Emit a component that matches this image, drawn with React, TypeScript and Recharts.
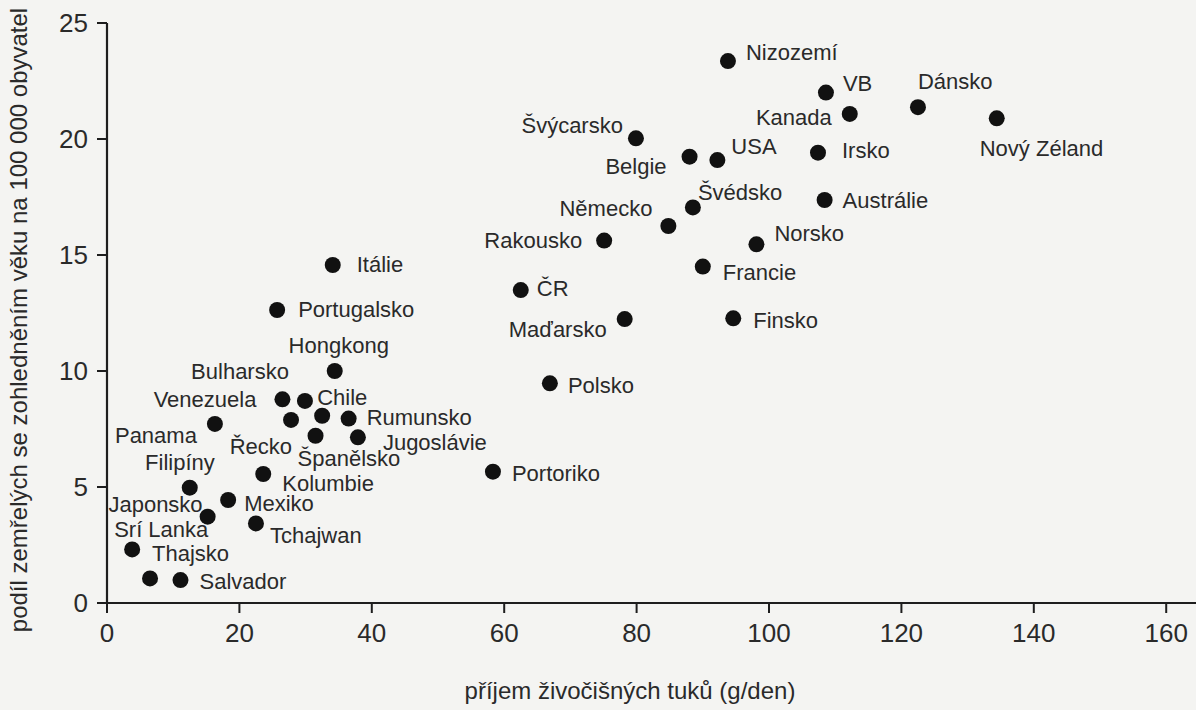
import React from "react";
import { ScatterChart, Scatter, XAxis, YAxis } from "recharts";

const countries = [
  "Nizozemí", "VB", "Kanada", "Dánsko", "Nový Zéland", "Irsko", "Austrálie",
  "Švýcarsko", "Belgie", "USA", "Švédsko", "Německo", "Rakousko", "Norsko",
  "Francie", "ČR", "Maďarsko", "Finsko", "Polsko", "Portoriko", "Itálie",
  "Portugalsko", "Hongkong", "Venezuela", "Bulharsko", "Řecko", "Chile",
  "Rumunsko", "Španělsko", "Jugoslávie", "Panama", "Kolumbie", "Filipíny",
  "Mexiko", "Japonsko", "Tchajwan", "Srí Lanka", "Thajsko", "Salvador",
];

const fatIntake = [
  93.8, 108.6, 112.2, 122.5, 134.4, 107.4, 108.4,
  79.9, 88.0, 92.2, 88.5, 84.8, 75.1, 98.1,
  90.0, 62.5, 78.2, 94.6, 66.9, 58.3, 34.1,
  25.7, 34.4, 26.5, 29.9, 27.8, 32.5,
  36.5, 31.5, 37.9, 16.3, 23.6, 12.5,
  18.3, 15.2, 22.5, 3.8, 6.5, 11.1,
];

const mortality = [
  23.36, 22.0, 21.08, 21.37, 20.89, 19.41, 17.37,
  20.03, 19.24, 19.09, 17.05, 16.25, 15.62, 15.46,
  14.5, 13.49, 12.24, 12.27, 9.47, 5.66, 14.57,
  12.63, 10.0, 8.78, 8.71, 7.89, 8.07,
  7.95, 7.21, 7.14, 7.72, 5.56, 4.97,
  4.44, 3.72, 3.43, 2.31, 1.06, 0.99,
];

const xTicks = [0, 20, 40, 60, 80, 100, 120, 140, 160];
const yTicks = [0, 5, 10, 15, 20, 25];

const xTitle = "příjem živočišných tuků (g/den)";
const yTitle = "podíl zemřelých se zohledněním věku na 100 000 obyvatel";

// label placement relative to each dot: [textAnchor, dx, dy]
const labelPlacement: Record<string, [string, number, number]> = {
  "Nizozemí": ["start", 18, -9],
  "VB": ["start", 17, -9],
  "Kanada": ["end", -18, 4],
  "Dánsko": ["start", 0, -26],
  "Nový Zéland": ["start", -17, 30],
  "Irsko": ["start", 24, -2],
  "Austrálie": ["start", 18, 0],
  "Švýcarsko": ["end", -13, -13],
  "Belgie": ["end", -23, 10],
  "USA": ["start", 14, -14],
  "Švédsko": ["start", 5, -15],
  "Německo": ["end", -16, -18],
  "Rakousko": ["end", -22, 0],
  "Norsko": ["start", 18, -11],
  "Francie": ["start", 20, 6],
  "ČR": ["start", 16, -2],
  "Maďarsko": ["end", -18, 10],
  "Finsko": ["start", 20, 2],
  "Polsko": ["start", 18, 2],
  "Portoriko": ["start", 19, 2],
  "Itálie": ["start", 24, 0],
  "Portugalsko": ["start", 21, 0],
  "Hongkong": ["middle", 4, -26],
  "Venezuela": ["end", -26, 0],
  "Bulharsko": ["end", -16, -29],
  "Řecko": ["end", 1, 27],
  "Chile": ["start", -5, -18],
  "Rumunsko": ["start", 18, -1],
  "Španělsko": ["start", -18, 23],
  "Jugoslávie": ["start", 25, 5],
  "Panama": ["end", -18, 12],
  "Kolumbie": ["start", 19, 9],
  "Filipíny": ["end", 25, -25],
  "Mexiko": ["start", 16, 4],
  "Japonsko": ["end", -5, -12],
  "Tchajwan": ["start", 14, 12],
  "Srí Lanka": ["start", -18, -20],
  "Thajsko": ["start", 2, -25],
  "Salvador": ["start", 19, 1],
};

const data = countries.map((name, i) => ({
  name,
  fat: fatIntake[i],
  rate: mortality[i],
}));

const FONT = "'Liberation Sans', Arial, Helvetica, sans-serif";
const TEXT = "#2a2a2a";
const AXIS = "#1e1e1e";

const Dot = (props: any) => {
  const { cx, cy, payload } = props;
  if (cx == null || cy == null) return null;
  const p = labelPlacement[payload.name] || ["start", 14, 0];
  return (
    <g>
      <circle cx={cx} cy={cy} r={8} fill="#111" />
      <text
        x={cx + p[1]}
        y={cy + p[2]}
        textAnchor={p[0] as any}
        dominantBaseline="central"
        fontFamily={FONT}
        fontSize={22}
        fill={TEXT}
      >
        {payload.name}
      </text>
    </g>
  );
};

export default function App() {
  return (
    <div
      style={{
        position: "absolute",
        left: 0,
        top: 0,
        width: 1196,
        height: 710,
        background: "#f4f4f2",
      }}
    >
      <ScatterChart
        width={1196}
        height={710}
        margin={{ top: 23, right: 0, bottom: 0, left: 0 }}
      >
        <XAxis
          type="number"
          dataKey="fat"
          domain={[0, 164.5]}
          ticks={xTicks}
          allowDataOverflow
          height={107}
          tickSize={10}
          tickMargin={11}
          axisLine={{ stroke: AXIS, strokeWidth: 2.2 }}
          tickLine={{ stroke: AXIS, strokeWidth: 2 }}
          tick={{ fontSize: 26, fill: TEXT, fontFamily: FONT }}
          label={{
            content: () => (
              <text
                x={630}
                y={690}
                textAnchor="middle"
                dominantBaseline="central"
                fontFamily={FONT}
                fontSize={24}
                fill={TEXT}
              >
                {xTitle}
              </text>
            ),
          }}
        />
        <YAxis
          type="number"
          dataKey="rate"
          domain={[0, 25]}
          ticks={yTicks}
          width={107}
          tickSize={10}
          tickMargin={9}
          axisLine={{ stroke: AXIS, strokeWidth: 2.2 }}
          tickLine={{ stroke: AXIS, strokeWidth: 2 }}
          tick={{ fontSize: 26, fill: TEXT, fontFamily: FONT }}
          label={{
            content: () => (
              <text
                x={18}
                y={320}
                transform="rotate(-90 18 320)"
                textAnchor="middle"
                dominantBaseline="central"
                fontFamily={FONT}
                fontSize={24}
                fill={TEXT}
              >
                {yTitle}
              </text>
            ),
          }}
        />
        <Scatter data={data} shape={Dot} isAnimationActive={false} />
      </ScatterChart>
    </div>
  );
}
